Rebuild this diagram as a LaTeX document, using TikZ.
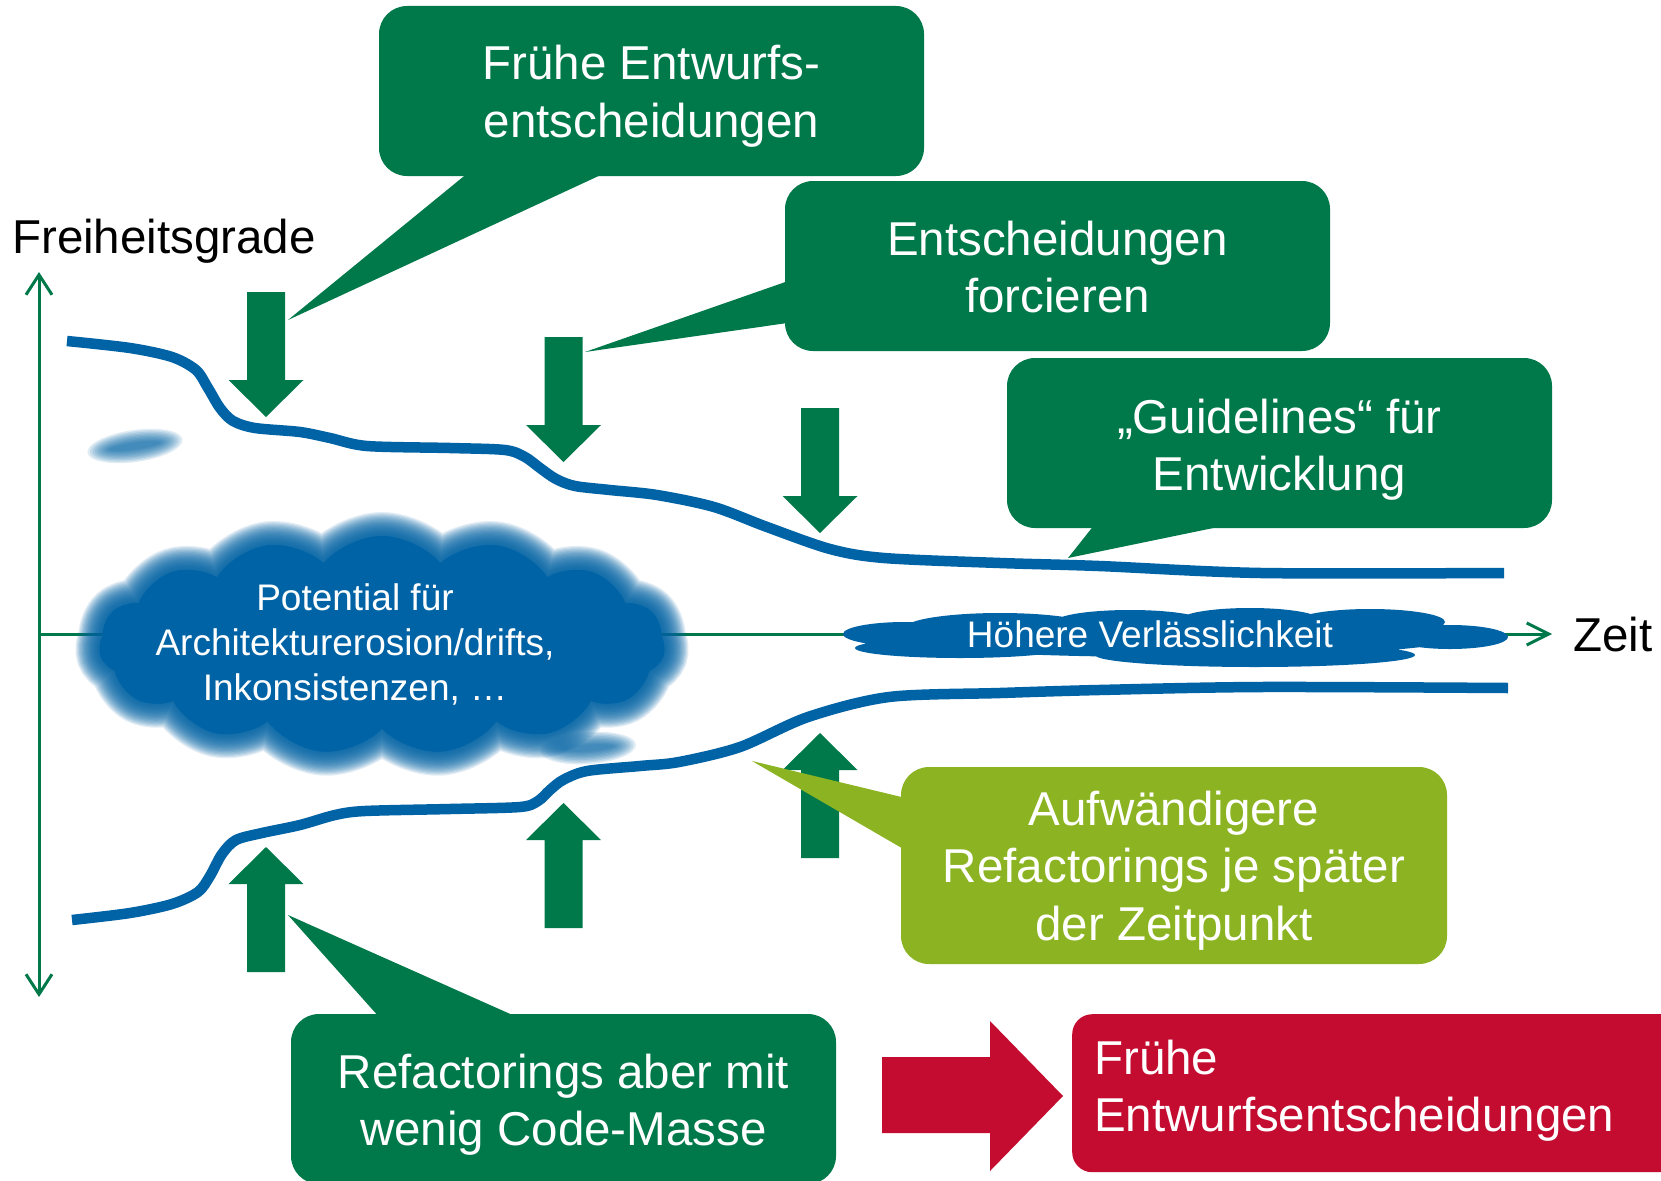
\documentclass[tikz,border=0pt]{standalone}
\usepackage{fontspec}
\setmainfont{Liberation Sans}
\usetikzlibrary{shapes.symbols,shapes.geometric,arrows.meta,calc}
\definecolor{dkgreen}{RGB}{0,121,74}
\definecolor{myblue}{RGB}{0,99,165}
\definecolor{ltgreen}{RGB}{140,180,34}
\definecolor{myred}{RGB}{196,12,48}
\newcommand{\mytxt}[2][c]{\begin{tabular}[t]{@{}#1@{}}#2\end{tabular}}
\tikzset{
  bigtxt/.style={font=\fontsize{47.5}{57.5}\selectfont, inner sep=0pt},
  midtxt/.style={font=\fontsize{37}{45}\selectfont, inner sep=0pt},
  wtxt/.style={text=white},
  gbox/.style={fill=dkgreen, rounded corners=28pt, inner sep=0pt, minimum width=545pt, minimum height=170pt},
  lbox/.style={fill=ltgreen, rounded corners=28pt, inner sep=0pt},
  rbox/.style={fill=myred, rounded corners=20pt, inner sep=0pt},
  axisline/.style={draw=dkgreen, line width=3pt},
  curve/.style={draw=myblue, line width=10.5pt},
  darrow/.pic={\fill[dkgreen] (0,0) -- (-37.5,-37) -- (-19,-37) -- (-19,-125) -- (19,-125) -- (19,-37) -- (37.5,-37) -- cycle;},
  uarrow/.pic={\fill[dkgreen] (0,0) -- (-37.5,37) -- (-19,37) -- (-19,125) -- (19,125) -- (19,37) -- (37.5,37) -- cycle;},
  bigcloud/.style={cloud, cloud puffs=15, cloud puff arc=100, aspect=2.6, minimum width=566pt, minimum height=218pt, inner sep=0pt},
  blob/.style={ellipse, fill=myblue, inner sep=0pt},
}
\begin{document}
\begin{tikzpicture}[x=1pt,y=-1pt]
\useasboundingbox (0,0) rectangle (1661,1180);
\fill[white] (0,0) rectangle (1661,1180);

% axes
\coordinate (ytop) at (39,272);
\coordinate (ybot) at (39,997);
\coordinate (xo) at (39,634);
\coordinate (xend) at (1552,634);
\draw[axisline, {Straight Barb[length=20pt,width=26pt]}-{Straight Barb[length=20pt,width=26pt]}] (ybot) -- (ytop);
\draw[axisline, -{Straight Barb[length=22pt,width=22pt]}] (xo) -- (xend);

% blurred cloud
\node[bigcloud, fill=myblue] (erosion) at (382,645) {};
\foreach \k [evaluate=\k as \w using 2.4*\k] in {1,...,20} {
  \node[bigcloud, draw=myblue, line width=\w pt, draw opacity=0.11] (glow\k) at (382,645) {};
}
\node[midtxt, wtxt, anchor=base] (erotxt) at (355,610) {\mytxt{Potential für\\Architekturerosion/drifts,\\Inkonsistenzen, …}};

% small blurred blobs
\foreach \k [evaluate=\k as \mw using 96-5*\k, evaluate=\k as \mh using 32-2.8*\k] in {0,...,9} {
  \node[blob, fill opacity=0.12, minimum width=\mw pt, minimum height=\mh pt, rotate=8] (blobA\k) at (135,446) {};
  \node[blob, fill opacity=0.12, minimum width=\mw pt, minimum height=\mh pt, rotate=4] (blobB\k) at (588,748) {};
}

% blue curves
\draw[curve] plot[smooth, tension=0.5] coordinates {(67,341) (130,348) (172,357) (196,370) (208,388) (220,408) (233,421) (255,428) (300,432) (330,438) (367,446) (450,448) (505,450) (525,457) (540,468) (556,479) (575,486) (610,490) (657,495) (714,507) (767,527) (830,549) (884,558) (1000,563) (1099,566) (1261,573) (1504,573)};
\draw[curve] plot[smooth, tension=0.5] coordinates {(72,920) (130,913) (172,904) (198,892) (210,876) (222,854) (236,840) (262,833) (300,825) (335,815) (365,811) (450,809) (520,807) (538,801) (550,790) (563,780) (587,771) (640,766) (679,762) (740,747) (808,717) (889,697) (1000,693) (1099,690) (1261,687) (1508,688)};

% Hoehere Verlaesslichkeit cloud
\fill[myblue] (1170,637) ellipse [x radius=290, y radius=20]
  (1000,628) ellipse [x radius=95, y radius=15]
  (1130,622) ellipse [x radius=75, y radius=12]
  (1250,620) ellipse [x radius=70, y radius=12]
  (1370,622) ellipse [x radius=75, y radius=13]
  (905,634) ellipse [x radius=62, y radius=12]
  (960,648) ellipse [x radius=105, y radius=10]
  (1255,655) ellipse [x radius=160, y radius=12]
  (1450,637) ellipse [x radius=58, y radius=12];
\node[midtxt, wtxt, anchor=base] (hvtxt) at (1150,647) {Höhere Verlässlichkeit};

% block arrows
\pic at (266,417) {darrow};
\pic at (563.5,462) {darrow};
\pic at (820,533) {darrow};
\pic at (266,847) {uarrow};
\pic at (563.5,803) {uarrow};
\pic at (820,733) {uarrow};

% box 1
\node[gbox] (b1) at (651.5,91) {};
\coordinate (tip1) at (288,320);
\fill[dkgreen] ([xshift=90pt,yshift=4pt]b1.south west) -- (tip1) -- ([xshift=228pt,yshift=4pt]b1.south west) -- cycle;
\node[bigtxt, wtxt, anchor=base] (t1) at (651.5,80) {\mytxt{Frühe Entwurfs-\\entscheidungen}};

% box 2
\node[gbox] (b2) at (1057.5,266) {};
\coordinate (tip2) at (585,352);
\fill[dkgreen] ([xshift=4pt,yshift=-100pt]b2.north west) -- (tip2) -- ([xshift=4pt,yshift=-142pt]b2.north west) -- cycle;
\node[bigtxt, wtxt, anchor=base] (t2) at (1057.5,255) {\mytxt{Entscheidungen\\forcieren}};

% box 3
\node[gbox] (b3) at (1279.5,443) {};
\coordinate (tip3) at (1068,558);
\fill[dkgreen] ([xshift=88pt,yshift=4pt]b3.south west) -- (tip3) -- ([xshift=225pt,yshift=4pt]b3.south west) -- cycle;
\node[bigtxt, wtxt, anchor=base] (t3) at (1279.5,433) {\mytxt{„Guidelines“ für\\Entwicklung}};

% box 4 (light green)
\node[lbox, minimum width=546pt, minimum height=197pt] (b4) at (1174,865.5) {};
\coordinate (tip4) at (752,761);
\fill[ltgreen] ([xshift=4pt,yshift=-31pt]b4.north west) -- (tip4) -- ([xshift=4pt,yshift=-83pt]b4.north west) -- cycle;
\node[bigtxt, wtxt, anchor=base] (t4) at (1174,825) {\mytxt{Aufwändigere\\Refactorings je später\\der Zeitpunkt}};

% box 5
\node[gbox] (b5) at (563.5,1099) {};
\coordinate (tip5) at (288,915);
\fill[dkgreen] ([xshift=89pt,yshift=-4pt]b5.north west) -- (tip5) -- ([xshift=228pt,yshift=-4pt]b5.north west) -- cycle;
\node[bigtxt, wtxt, anchor=base] (t5) at (563.5,1088) {\mytxt{Refactorings aber mit\\wenig Code-Masse}};

% red arrow and box
\fill[myred] (882,1057) -- (990,1057) -- (990,1021) -- (1063,1096) -- (990,1171) -- (990,1133) -- (882,1133) -- cycle;
\node[rbox, anchor=north west, minimum width=650pt, minimum height=158pt] (b6) at (1072,1014) {};
\node[bigtxt, wtxt, anchor=base west] (t6) at (1094,1074) {\mytxt[l]{Frühe\\Entwurfsentscheidungen}};

% axis labels
\node[bigtxt, anchor=base west] (fg) at (12,253) {Freiheitsgrade};
\node[bigtxt, anchor=base west] (zeit) at (1573,651) {Zeit};
\end{tikzpicture}
\end{document}
